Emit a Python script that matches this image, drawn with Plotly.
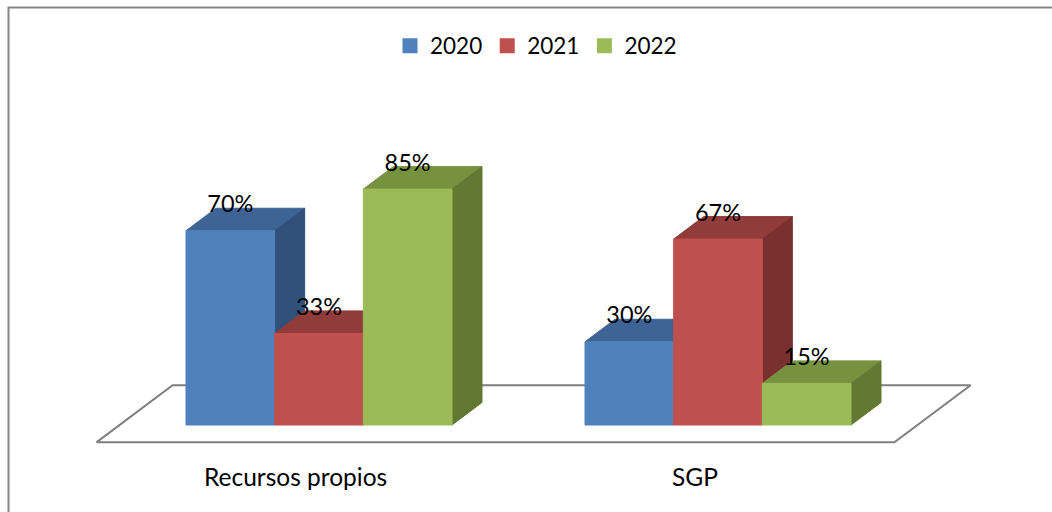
import plotly.graph_objects as go

categories = ["Recursos propios", "SGP"]
years = ["2020", "2021", "2022"]
values_2020 = [70, 30]
values_2021 = [33, 67]
values_2022 = [85, 15]

series = [values_2020, values_2021, values_2022]
front_colors = ["#4F81BD", "#C0504D", "#9BBB59"]
top_colors = ["#3E6496", "#913C3A", "#77923F"]
side_colors = ["#30507A", "#7A302E", "#627833"]

# fake 3d geometry: x in category units, y in percent units
bar_w = 2 / 9            # three bars fill 2/3 of a category
depth_x = 30 / 399       # oblique depth offset
depth_y = 22.5 / 2.775
floor_front = -0.77
floor_back = 1.77
font = "Lato"

fig = go.Figure()


def poly(xs, ys, fill, line_color=None, line_width=1):
    fig.add_trace(go.Scatter(
        x=xs + [xs[0]], y=ys + [ys[0]],
        mode="lines", fill="toself", fillcolor=fill,
        line=dict(color=line_color or fill, width=line_width),
        hoverinfo="skip", showlegend=False,
    ))


# floor
fx0, fx1 = -0.5, len(categories) - 0.5
poly([fx0 + floor_front * depth_x, fx1 + floor_front * depth_x,
      fx1 + floor_back * depth_x, fx0 + floor_back * depth_x],
     [floor_front * depth_y, floor_front * depth_y,
      floor_back * depth_y, floor_back * depth_y],
     "white", "#7F7F7F", 2)

# bars, painted left to right
for g in range(len(categories)):
    for i, vals in enumerate(series):
        v = vals[g]
        x0 = g - 1 / 3 + i * bar_w
        x1 = x0 + bar_w
        poly([x0, x1, x1 + depth_x, x0 + depth_x], [v, v, v + depth_y, v + depth_y], top_colors[i])
        poly([x1, x1 + depth_x, x1 + depth_x, x1], [0, depth_y, v + depth_y, v], side_colors[i])
        poly([x0, x1, x1, x0], [0, 0, v, v], front_colors[i])

# data labels
for i, vals in enumerate(series):
    fig.add_trace(go.Scatter(
        x=[g - 1 / 3 + (i + 0.5) * bar_w for g in range(len(categories))],
        y=[v + depth_y + 0.6 for v in vals],
        mode="text", text=[f"{v}%" for v in vals],
        textfont=dict(family=font, size=23.5, color="black"),
        hoverinfo="skip", showlegend=False,
    ))

# legend entries
for i, year in enumerate(years):
    fig.add_trace(go.Scatter(
        x=[None], y=[None], mode="markers", name=year,
        marker=dict(symbol="square", size=15, color=front_colors[i]),
    ))

# category labels under the floor front edge
for g, cat in enumerate(categories):
    fig.add_annotation(
        x=g + floor_front * depth_x, y=-18.5, text=cat, showarrow=False,
        font=dict(family=font, size=24.5, color="black"),
        xanchor="center", yanchor="middle",
    )

# chart border
fig.add_shape(type="rect", xref="paper", yref="paper",
              x0=8.5 / 1052, x1=1.02, y0=-0.02, y1=1 - 7.5 / 512,
              line=dict(color="#868686", width=2), layer="below")

fig.update_layout(
    width=1052, height=512,
    margin=dict(l=0, r=0, t=0, b=0),
    paper_bgcolor="white", plot_bgcolor="white",
    xaxis=dict(range=[-319 / 399, 733 / 399], visible=False),
    yaxis=dict(range=[-31.35, 153.15], visible=False),
    legend=dict(orientation="h", x=536 / 1052, xanchor="center",
                y=1 - 46 / 512, yanchor="middle",
                font=dict(family=font, size=22.5, color="black"),
                itemwidth=30, bgcolor="rgba(0,0,0,0)"),
)

fig.write_html("out.html", config={"displayModeBar": False},
               post_script="document.body.style.margin='0';")
